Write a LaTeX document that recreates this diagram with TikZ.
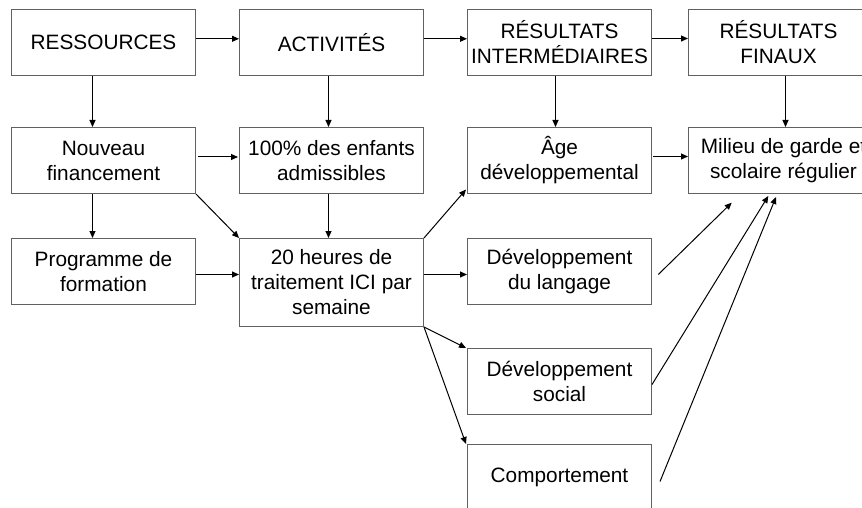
\documentclass[tikz,border=0pt]{standalone}
\usepackage{fontspec}
\setmainfont{Liberation Sans}
\usetikzlibrary{arrows.meta}
\tikzset{
  box/.style={draw=black!62, line width=1pt, minimum width=184pt, minimum height=66pt,
    inner sep=0pt, align=center, anchor=north west,
    font=\fontsize{20.8}{25}\selectfont},
  conn/.style={draw=black, line width=1pt, -{Triangle[length=7pt,width=6pt]}},
  plain/.style={draw=black, line width=1pt}
}
\begin{document}
\begin{tikzpicture}[x=1pt,y=-1pt]
\path[use as bounding box, clip] (0,0) rectangle (862,508);
\fill[white] (0,0) rectangle (862,508);
% row 1
\node[box] (res) at (11,9) {RESSOURCES};
\node[box] (act) at (239,9) {ACTIVITÉS};
\node[box] (ri) at (467,9) {RÉSULTATS\\INTERMÉDIAIRES};
\node[box, minimum width=180pt] (rf) at (688,9) {RÉSULTATS\\FINAUX};
% row 2
\node[box] (nf) at (11,127) {Nouveau\\financement};
\node[box] (cent) at (239,127) {100\% des enfants\\admissibles};
\node[box] (age) at (467,127) {Âge\\développemental};
\node[box, minimum width=190pt] (mil) at (688,127) {Milieu de garde et\\scolaire régulier};
% row 3
\node[box] (prog) at (11,238) {Programme de\\formation};
\node[box, minimum height=88pt] (heures) at (239,238) {20 heures de\\traitement ICI par\\semaine};
\node[box] (lang) at (467,238) {Développement\\du langage};
\node[box] (soc) at (467,348) {Développement\\social};
\node[box] (comp) at (467,444) {Comportement};
% connectors
\draw[conn] ([yshift=3.7pt]res.east) -- ([yshift=3.7pt]act.west);
\draw[conn] ([yshift=3.7pt]act.east) -- ([yshift=3.7pt]ri.west);
\draw[conn] ([yshift=4pt]ri.east) -- ([yshift=4pt]rf.west);
\draw[conn] ([xshift=-11pt]res.south) -- ([xshift=-11pt]nf.north);
\draw[conn] ([xshift=-3pt]act.south) -- ([xshift=-3pt]cent.north);
\draw[conn] ([xshift=-4pt]ri.south) -- ([xshift=-4pt]age.north);
\draw[conn] ([xshift=7pt]rf.south) -- ([xshift=2pt]mil.north);
\draw[conn] ([xshift=2pt,yshift=3.5pt]nf.east) -- ([xshift=-1pt,yshift=3.5pt]cent.west);
\draw[conn] ([xshift=1pt,yshift=4pt]age.east) -- ([yshift=4pt]mil.west);
\draw[conn] ([xshift=-11pt]nf.south) -- ([xshift=-11pt]prog.north);
\draw[conn] ([xshift=-3pt]cent.south) -- ([xshift=-3pt]heures.north);
\draw[conn] (nf.south east) -- (heures.north west);
\draw[conn] ([yshift=-3pt]prog.east) -- ([yshift=8pt]heures.west);
\draw[conn] (heures.north east) -- ([xshift=-1pt,yshift=4.5pt]age.south west);
\draw[conn] ([yshift=8pt]heures.east) -- ([yshift=-3pt]lang.west);
\draw[conn] (heures.south east) -- ([xshift=-1pt]soc.north west);
\draw[conn] (heures.south east) -- ([xshift=-1pt]comp.north west);
\draw[conn] ([xshift=6.3pt,yshift=-3pt]lang.east) -- ([xshift=43.7pt,yshift=-8.7pt]mil.south west);
\draw[conn] ([yshift=-3pt]soc.east) -- ([xshift=80.3pt,yshift=-2pt]mil.south west);
\draw[conn] ([xshift=8pt,yshift=-4pt]comp.east) -- ([xshift=88pt,yshift=-3pt]mil.south west);
\end{tikzpicture}
\end{document}
